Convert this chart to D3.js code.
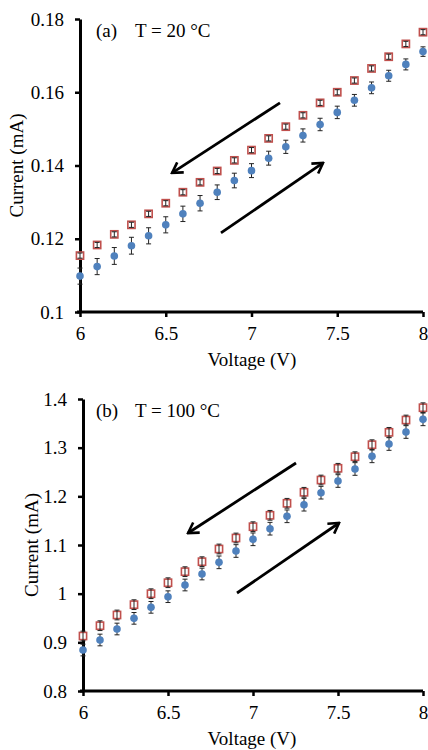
<!DOCTYPE html>
<html>
<head>
<meta charset="utf-8">
<script src="https://cdn.jsdelivr.net/npm/d3@7"></script>
<style>
  body { margin: 0; background: #fff; }
</style>
</head>
<body>
<svg id="chart" width="428" height="750"></svg>
<script>
// data
const voltage = [6.0, 6.1, 6.2, 6.3, 6.4, 6.5, 6.6, 6.7, 6.8, 6.9, 7.0, 7.1, 7.2, 7.3, 7.4, 7.5, 7.6, 7.7, 7.8, 7.9, 8.0]

// (a) T = 20 °C
const upA = [0.1098, 0.1124, 0.1153, 0.1181, 0.1208, 0.1238, 0.1268, 0.1297, 0.1327, 0.1359, 0.1386, 0.1420, 0.1451, 0.1482, 0.1512, 0.1545, 0.1578, 0.1612, 0.1645, 0.1676, 0.1711]
const downA = [0.1154, 0.1183, 0.1212, 0.1238, 0.1268, 0.1297, 0.1327, 0.1354, 0.1385, 0.1414, 0.1442, 0.1474, 0.1506, 0.1537, 0.1571, 0.1600, 0.1632, 0.1665, 0.1697, 0.1732, 0.1764]
const upErrA = [0.0022, 0.0022, 0.0023, 0.0023, 0.0022, 0.0022, 0.0021, 0.0021, 0.0020, 0.0020, 0.0019, 0.0019, 0.0018, 0.0018, 0.0017, 0.0017, 0.0016, 0.0016, 0.0015, 0.0015, 0.0013]
const downErrA = [0.0007, 0.0007, 0.0007, 0.0007, 0.0007, 0.0007, 0.0007, 0.0007, 0.0007, 0.0007, 0.0007, 0.0007, 0.0007, 0.0007, 0.0007, 0.0007, 0.0007, 0.0007, 0.0007, 0.0007, 0.0007]
const yTicksA = [0.1, 0.12, 0.14, 0.16, 0.18]
const yLabelsA = ['0.1', '0.12', '0.14', '0.16', '0.18']

// (b) T = 100 °C
const upB = [0.8842, 0.9048, 0.9274, 0.9493, 0.9719, 0.9938, 1.0178, 1.0404, 1.0644, 1.0877, 1.1117, 1.1335, 1.1590, 1.1828, 1.2075, 1.2315, 1.2562, 1.2822, 1.3075, 1.3322, 1.3582]
const downB = [0.9130, 0.9342, 0.9562, 0.9774, 0.9999, 1.0225, 1.0452, 1.0657, 1.0918, 1.1144, 1.1376, 1.1610, 1.1857, 1.2083, 1.2335, 1.2576, 1.2814, 1.3061, 1.3315, 1.3568, 1.3821]
const upErrB = [0.012, 0.012, 0.012, 0.012, 0.012, 0.012, 0.012, 0.012, 0.013, 0.013, 0.013, 0.013, 0.013, 0.013, 0.013, 0.013, 0.013, 0.013, 0.013, 0.013, 0.013]
const downErrB = [0.010, 0.010, 0.010, 0.010, 0.010, 0.010, 0.010, 0.010, 0.010, 0.010, 0.010, 0.010, 0.010, 0.010, 0.010, 0.010, 0.010, 0.010, 0.010, 0.010, 0.010]
const yTicksB = [0.8, 0.9, 1.0, 1.1, 1.2, 1.3, 1.4]
const yLabelsB = ['0.8', '0.9', '1', '1.1', '1.2', '1.3', '1.4']

const xTicks = [6, 6.5, 7, 7.5, 8]
const xLabels = ['6', '6.5', '7', '7.5', '8']

// arrows in data units: [x1, y1, x2, y2] (tail -> head)
const arrowsA = [[7.166, 0.1571, 6.537, 0.1380], [6.822, 0.1216, 7.417, 0.1407]]
const arrowsB = [[7.253, 1.2685, 6.618, 1.1246], [6.906, 1.0014, 7.506, 1.1452]]

const BLUE = '#4F81BD'
const RED = '#C0504D'
const FONT = '"Liberation Serif", "DejaVu Serif", serif'

let svg = d3.select('#chart').attr('font-family', FONT)

svg.append('defs').append('marker')
  .attr('id', 'head')
  .attr('viewBox', '-12 -7 14 14')
  .attr('refX', 0)
  .attr('refY', 0)
  .attr('markerWidth', 14)
  .attr('markerHeight', 14)
  .attr('markerUnits', 'userSpaceOnUse')
  .attr('orient', 'auto')
  .append('path')
  .attr('d', 'M-10,-6 L0,0 L-10,6')
  .attr('fill', 'none')
  .attr('stroke', '#000')
  .attr('stroke-width', 2.6)

let drawPanel = (p) => {
  let x = d3.scaleLinear().domain([6, 8]).range([p.left, 423])
  let y = d3.scaleLinear().domain(p.yDomain).range([p.bottom, p.top])
  let g = svg.append('g')

  // axes
  let yAxis = d3.axisLeft(y).tickValues(p.yTicks)
    .tickFormat((d, i) => p.yLabels[i]).tickSize(5).tickSizeOuter(0).tickPadding(11)
  let xAxis = d3.axisBottom(x).tickValues(xTicks)
    .tickFormat((d, i) => xLabels[i]).tickSize(5).tickSizeOuter(0).tickPadding(10)

  let ya = g.append('g').attr('transform', `translate(${p.left},0)`).call(yAxis)
  let xa = g.append('g').attr('transform', `translate(0,${p.bottom})`).call(xAxis)
  ;[ya, xa].forEach(a => {
    a.attr('font-family', FONT).attr('font-size', 19)
    a.select('.domain').attr('stroke', '#000').attr('stroke-width', 3)
    a.selectAll('.tick line').attr('stroke', '#000').attr('stroke-width', 2.5)
    a.selectAll('.tick text').attr('fill', '#000')
  })
  xa.select('.domain').attr('d', `M${p.left - 3},0H423`)

  // axis titles
  g.append('text')
    .attr('x', 252).attr('y', p.bottom + 54)
    .attr('text-anchor', 'middle').attr('font-size', 19)
    .text('Voltage (V)')
  g.append('text')
    .attr('transform', `translate(${p.yTitleX},${(p.top + p.bottom) / 2}) rotate(-90)`)
    .attr('text-anchor', 'middle').attr('font-size', 19)
    .text('Current (mA)')

  // panel label
  g.append('text').attr('x', 96).attr('y', p.top + 18).attr('font-size', 19).text(p.tag)
  g.append('text').attr('x', 135).attr('y', p.top + 18).attr('font-size', 19).text(p.temp)

  // arrows
  g.selectAll('line.arrow')
    .data(p.arrows)
    .enter()
    .append('line')
    .attr('class', 'arrow')
    .attr('x1', a => x(a[0])).attr('y1', a => y(a[1]))
    .attr('x2', a => x(a[2])).attr('y2', a => y(a[3]))
    .attr('stroke', '#000').attr('stroke-width', 2.8)
    .attr('marker-end', 'url(#head)')

  let errBars = (vals, errs, color) => {
    let eb = g.append('g').attr('stroke', color).attr('stroke-width', 1)
    voltage.forEach((v, i) => {
      let cx = x(v), y1 = y(vals[i] - errs[i]), y2 = y(vals[i] + errs[i])
      eb.append('line').attr('x1', cx).attr('x2', cx).attr('y1', y1).attr('y2', y2)
      eb.append('line').attr('x1', cx - 2.5).attr('x2', cx + 2.5).attr('y1', y1).attr('y2', y1)
      eb.append('line').attr('x1', cx - 2.5).attr('x2', cx + 2.5).attr('y1', y2).attr('y2', y2)
    })
  }

  // sweep up: blue circles
  errBars(p.up, p.upErr, '#222')
  g.selectAll('circle.up')
    .data(voltage)
    .enter()
    .append('circle')
    .attr('class', 'up')
    .attr('cx', v => x(v))
    .attr('cy', (v, i) => y(p.up[i]))
    .attr('r', 3.8)
    .attr('fill', BLUE)

  // sweep down: red open squares
  g.selectAll('rect.down')
    .data(voltage)
    .enter()
    .append('rect')
    .attr('class', 'down')
    .attr('x', v => x(v) - 3.6)
    .attr('y', (v, i) => y(p.down[i]) - 3.6)
    .attr('width', 7.2)
    .attr('height', 7.2)
    .attr('fill', '#fff')
    .attr('stroke', RED)
    .attr('stroke-width', 1.6)
  errBars(p.down, p.downErr, '#222')
}

drawPanel({
  left: 80, top: 19, bottom: 312, yDomain: [0.1, 0.18],
  yTicks: yTicksA, yLabels: yLabelsA,
  up: upA, down: downA, upErr: upErrA, downErr: downErrA,
  arrows: arrowsA, tag: '(a)', temp: 'T = 20 °C', yTitleX: 23
})

drawPanel({
  left: 83, top: 399, bottom: 691, yDomain: [0.8, 1.4],
  yTicks: yTicksB, yLabels: yLabelsB,
  up: upB, down: downB, upErr: upErrB, downErr: downErrB,
  arrows: arrowsB, tag: '(b)', temp: 'T = 100 °C', yTitleX: 38
})
</script>
</body>
</html>
